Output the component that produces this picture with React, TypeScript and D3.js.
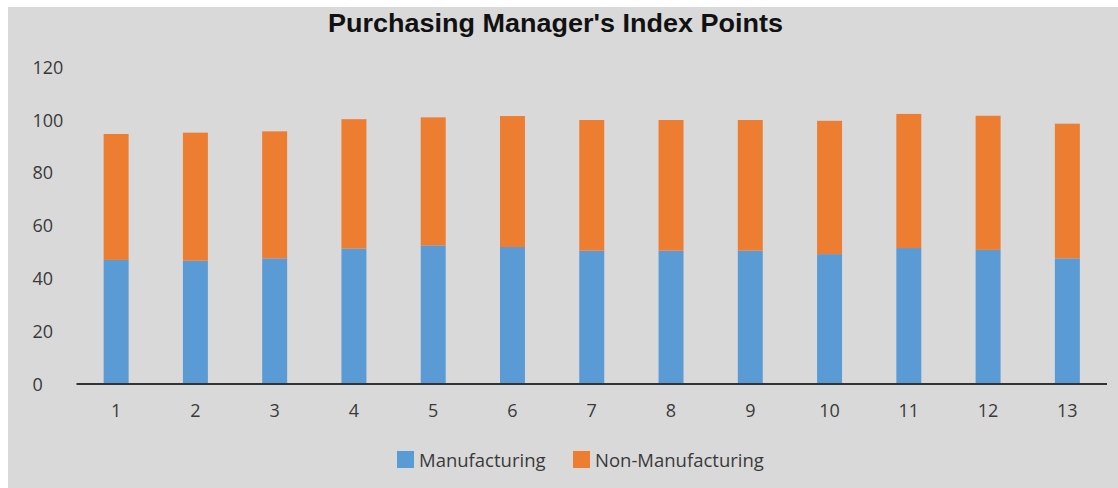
import React from "react";
import * as d3 from "d3";

const categories = ["1", "2", "3", "4", "5", "6", "7", "8", "9", "10", "11", "12", "13"];
const manufacturing = [47.0, 46.7, 47.6, 51.3, 52.5, 51.9, 50.5, 50.5, 50.5, 49.2, 51.5, 50.8, 47.6];
const nonManufacturing = [47.7, 48.5, 48.1, 49.0, 48.5, 49.6, 49.5, 49.5, 49.5, 50.5, 50.8, 50.8, 51.0];
const yTicks = [0, 20, 40, 60, 80, 100, 120];
const seriesNames = ["Manufacturing", "Non-Manufacturing"];
const colors = ["#5b9bd5", "#ed7d31"];
const title = "Purchasing Manager's Index Points";

const W = 1118;
const H = 488;

export default function App() {
  const rows = categories.map((c, i) => ({
    cat: c,
    Manufacturing: manufacturing[i],
    "Non-Manufacturing": nonManufacturing[i],
  }));
  const stacked = d3.stack<any>().keys(seriesNames)(rows);
  const x = d3.scaleBand<string>().domain(categories).range([76.5, 1107]).padding(0);
  const y = d3.scaleLinear().domain([0, 120]).range([384, 67.2]);
  const bw = x.bandwidth() * 0.315;
  const font = "'Open Sans', 'DejaVu Sans', sans-serif";
  const textColor = "#3a3a3a";

  return (
    <svg
      width={W}
      height={H}
      style={{ position: "absolute", left: 0, top: 0, display: "block" }}
    >
      <rect x={0} y={0} width={W} height={H} fill="#ffffff" />
      <rect x={8} y={7} width={W - 8} height={H - 7} fill="#d9d9d9" />
      <text
        x={555.5}
        y={31.5}
        textAnchor="middle"
        fontFamily="'Liberation Sans', Arial, sans-serif"
        fontWeight="bold"
        fontSize={26}
        textLength={455}
        lengthAdjust="spacingAndGlyphs"
        fill="#111"
      >
        {title}
      </text>
      {yTicks.map((t) => (
        <text
          key={t}
          x={32.5}
          y={y(t) + 6.5}
          fontFamily={font}
          fontSize={18}
          fill={textColor}
        >
          {t}
        </text>
      ))}
      {stacked.map((s, si) => (
        <g key={s.key} fill={colors[si]}>
          {s.map((d: any, i: number) => (
            <rect
              key={i}
              x={(x(d.data.cat) as number) + (x.bandwidth() - bw) / 2}
              y={y(d[1])}
              width={bw}
              height={y(d[0]) - y(d[1])}
            />
          ))}
        </g>
      ))}
      <line x1={76.5} x2={1107} y1={y(0)} y2={y(0)} stroke="#333" strokeWidth={2} />
      {categories.map((c) => (
        <text
          key={c}
          x={(x(c) as number) + x.bandwidth() / 2}
          y={417}
          textAnchor="middle"
          fontFamily={font}
          fontSize={18}
          fill={textColor}
        >
          {c}
        </text>
      ))}
      <g>
        <rect x={397} y={451} width={17} height={17} fill={colors[0]} />
        <text x={419} y={467} fontFamily={font} fontSize={18.5} fill={textColor}>
          {seriesNames[0]}
        </text>
        <rect x={573} y={451} width={17} height={17} fill={colors[1]} />
        <text x={595} y={467} fontFamily={font} fontSize={18.5} fill={textColor}>
          {seriesNames[1]}
        </text>
      </g>
    </svg>
  );
}
